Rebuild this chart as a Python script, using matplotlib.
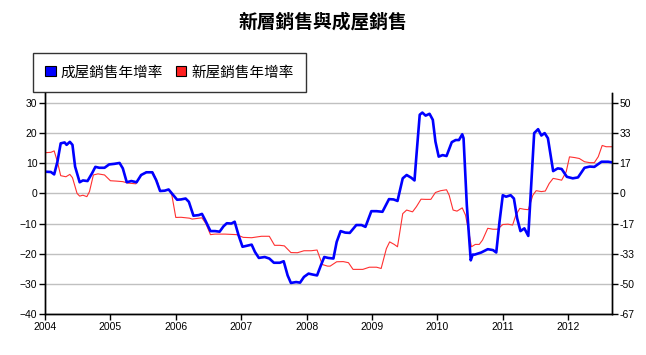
import matplotlib
matplotlib.use("Agg")
import matplotlib.pyplot as plt
from matplotlib.patches import Patch
from matplotlib.ticker import FuncFormatter

plt.rcParams['font.family'] = ['Liberation Sans', 'Noto Sans CJK TC', 'DejaVu Sans']

# 成屋銷售年增率 (left axis)
blue_t = [2004.00, 2004.09, 2004.14, 2004.19, 2004.24, 2004.30, 2004.33, 2004.38, 2004.42, 2004.46,
          2004.53, 2004.58, 2004.65, 2004.72, 2004.77, 2004.83, 2004.91, 2004.98, 2005.06, 2005.14,
          2005.19, 2005.25, 2005.32, 2005.40, 2005.47, 2005.55, 2005.64, 2005.70, 2005.76, 2005.83,
          2005.89, 2005.94, 2006.02, 2006.08, 2006.15, 2006.20, 2006.27, 2006.35, 2006.40, 2006.45,
          2006.53, 2006.60, 2006.67, 2006.73, 2006.78, 2006.85, 2006.90, 2006.96, 2007.02, 2007.08,
          2007.16, 2007.21, 2007.27, 2007.36, 2007.43, 2007.50, 2007.59, 2007.65, 2007.71, 2007.76,
          2007.84, 2007.90, 2007.96, 2008.03, 2008.09, 2008.16, 2008.22, 2008.27, 2008.33, 2008.41,
          2008.46, 2008.52, 2008.59, 2008.66, 2008.76, 2008.84, 2008.90, 2008.99, 2009.07, 2009.16,
          2009.26, 2009.33, 2009.39, 2009.47, 2009.53, 2009.60, 2009.65, 2009.68, 2009.73, 2009.77,
          2009.82, 2009.88, 2009.93, 2009.97, 2010.02, 2010.08, 2010.14, 2010.22, 2010.28, 2010.33,
          2010.38, 2010.40, 2010.45, 2010.51, 2010.54, 2010.57, 2010.67, 2010.77, 2010.85, 2010.90,
          2010.95, 2011.00, 2011.05, 2011.12, 2011.17, 2011.22, 2011.27, 2011.33, 2011.39, 2011.44,
          2011.48, 2011.54, 2011.59, 2011.64, 2011.69, 2011.77, 2011.84, 2011.90, 2011.98, 2012.07,
          2012.15, 2012.25, 2012.33, 2012.40, 2012.51, 2012.61, 2012.67]
blue_v = [7.2, 7.1, 6.3, 10.5, 16.6, 16.9, 16.1, 17.1, 16.1, 8.9,
          3.7, 4.3, 4.1, 6.7, 8.8, 8.5, 8.5, 9.6, 9.8, 10.1,
          8.3, 3.7, 4.1, 3.7, 6.1, 7.0, 7.0, 4.4, 0.8, 0.9,
          1.3, 0.0, -2.1, -2.0, -1.7, -2.8, -7.4, -7.2, -6.8, -8.9,
          -12.5, -12.5, -12.7, -10.9, -9.9, -10.0, -9.4, -13.9, -17.7, -17.4,
          -17.0, -19.4, -21.4, -21.1, -21.6, -23.0, -23.0, -22.5, -27.2, -29.7,
          -29.4, -29.6, -27.7, -26.6, -26.9, -27.2, -23.8, -21.1, -21.4, -21.6,
          -16.1, -12.5, -13.0, -13.1, -10.5, -10.5, -11.1, -5.9, -5.9, -6.1,
          -1.9, -2.0, -2.5, 5.0, 6.1, 5.2, 4.3, 12.7, 26.1, 26.8,
          25.8, 26.4, 24.4, 17.2, 12.2, 12.7, 12.4, 17.0, 17.7, 17.7,
          19.6, 18.3, -3.9, -22.2, -20.3, -20.3, -19.6, -18.5, -18.8, -19.6,
          -9.4, -0.6, -1.1, -0.6, -1.7, -8.3, -12.5, -11.6, -14.1, 5.0,
          20.0, 21.3, 19.2, 20.0, 18.3, 7.4, 8.3, 8.1, 5.5, 5.0,
          5.3, 8.5, 8.9, 8.8, 10.5, 10.5, 10.3]

# 新屋銷售年增率 (right axis)
red_t = [2004.00, 2004.09, 2004.14, 2004.19, 2004.24, 2004.32, 2004.38, 2004.42, 2004.49, 2004.53,
         2004.58, 2004.64, 2004.68, 2004.74, 2004.81, 2004.91, 2005.00, 2005.09, 2005.19, 2005.27,
         2005.39, 2005.47, 2005.55, 2005.65, 2005.72, 2005.76, 2005.90, 2005.94, 2006.00, 2006.08,
         2006.21, 2006.25, 2006.40, 2006.46, 2006.53, 2006.60, 2006.75, 2006.93, 2007.03, 2007.16,
         2007.31, 2007.43, 2007.51, 2007.59, 2007.66, 2007.76, 2007.86, 2007.96, 2008.07, 2008.16,
         2008.24, 2008.32, 2008.36, 2008.46, 2008.56, 2008.64, 2008.71, 2008.86, 2008.96, 2009.07,
         2009.14, 2009.22, 2009.27, 2009.34, 2009.39, 2009.47, 2009.53, 2009.62, 2009.68, 2009.75,
         2009.82, 2009.90, 2009.97, 2010.05, 2010.14, 2010.18, 2010.24, 2010.30, 2010.38, 2010.43,
         2010.48, 2010.52, 2010.58, 2010.64, 2010.69, 2010.77, 2010.85, 2010.92, 2011.00, 2011.08,
         2011.15, 2011.20, 2011.26, 2011.33, 2011.39, 2011.46, 2011.51, 2011.59, 2011.65, 2011.71,
         2011.77, 2011.84, 2011.90, 2011.97, 2012.02, 2012.10, 2012.17, 2012.25, 2012.33, 2012.40,
         2012.46, 2012.52, 2012.58, 2012.67]
red_v = [22.5, 22.7, 23.5, 17.5, 9.8, 9.2, 10.5, 8.7, 0.0, -1.5,
         -1.0, -1.8, 1.0, 10.2, 10.8, 10.2, 7.0, 6.8, 6.5, 5.7,
         5.3, 10.2, 11.8, 11.7, 6.2, 1.3, 1.8, -1.0, -13.3, -13.2,
         -13.7, -14.2, -13.5, -16.7, -22.8, -22.5, -22.5, -22.8, -24.3, -24.5,
         -23.7, -23.7, -28.7, -28.7, -29.0, -32.7, -32.8, -31.7, -31.7, -31.3,
         -39.3, -40.2, -40.2, -37.8, -37.7, -38.3, -42.0, -42.0, -40.8, -40.8,
         -41.5, -30.5, -26.8, -28.2, -29.5, -11.2, -9.2, -10.2, -7.3, -3.2,
         -3.3, -3.3, 0.5, 1.5, 2.0, -1.0, -9.2, -9.8, -8.0, -12.0,
         -21.2, -29.5, -28.2, -28.2, -25.8, -19.3, -19.8, -19.8, -17.2, -17.0,
         -17.5, -12.0, -8.3, -8.8, -9.0, -1.0, 1.5, 1.0, 1.3, 5.5,
         8.3, 7.8, 7.3, 12.0, 20.2, 19.8, 19.3, 17.5, 17.0, 17.0,
         20.3, 26.5, 25.8, 25.8]

years = [2004, 2005, 2006, 2007, 2008, 2009, 2010, 2011, 2012]
left_ticks = [-40, -30, -20, -10, 0, 10, 20, 30]
right_ticks = [-66.667, -50, -33.333, -16.667, 0, 16.667, 33.333, 50]

fig = plt.figure(figsize=(6.46, 3.55), dpi=100)
ax2 = fig.add_axes([45 / 646, 1 - 314 / 355, 567 / 646, 221 / 355])
ax = ax2.twinx()
ax.yaxis.tick_left()
ax2.yaxis.tick_right()
ax.set_zorder(ax2.get_zorder() + 1)
ax.patch.set_visible(False)

ax2.plot(red_t, red_v, color='#ff3030', lw=0.8)
ax.plot(blue_t, blue_v, color='#0000ff', lw=1.9)

ax.set_xlim(2004, 2012.67)
ax.set_ylim(-40, 33.3)
ax2.set_ylim(-66.667, 55.5)
ax.set_yticks(left_ticks)
ax2.set_yticks(right_ticks)
ax2.yaxis.set_major_formatter(FuncFormatter(lambda v, p: '%d' % round(v)))
ax2.set_xticks(years)
ax2.set_xticklabels([str(y) for y in years])
ax2.grid(axis='y', color='#c0c0c0', lw=1.0)
ax2.set_axisbelow(True)

for a in (ax, ax2):
    a.spines['top'].set_visible(False)
    for s in ('left', 'right', 'bottom'):
        a.spines[s].set_linewidth(1.0)
        a.spines[s].set_color('black')
    a.tick_params(labelsize=7.5, length=4, width=1, direction='out', colors='black', pad=1.5)
ax.tick_params(axis='x', bottom=False, labelbottom=False)

fig.text(0.5, 1 - 22 / 355, '新層銷售與成屋銷售', ha='center', va='center',
         fontsize=13.5, fontweight='bold', family=['Noto Sans CJK TC', 'DejaVu Sans'])

handles = [Patch(facecolor='#0000ff', edgecolor='black', lw=0.8),
           Patch(facecolor='#ff2020', edgecolor='black', lw=0.8)]
leg = fig.legend(handles, ['成屋銷售年增率', '新屋銷售年增率'], loc='upper left',
                 bbox_to_anchor=(33 / 646, 1 - 53 / 355), ncol=2, frameon=True,
                 fancybox=False, edgecolor='black', borderaxespad=0, handlelength=0.7,
                 handleheight=0.7, handletextpad=0.35, columnspacing=0.9, borderpad=0.85,
                 prop={'family': ['Noto Sans CJK TC', 'DejaVu Sans'], 'size': 10.5})
leg.get_frame().set_linewidth(1.0)

fig.savefig('out.png', dpi=100)
